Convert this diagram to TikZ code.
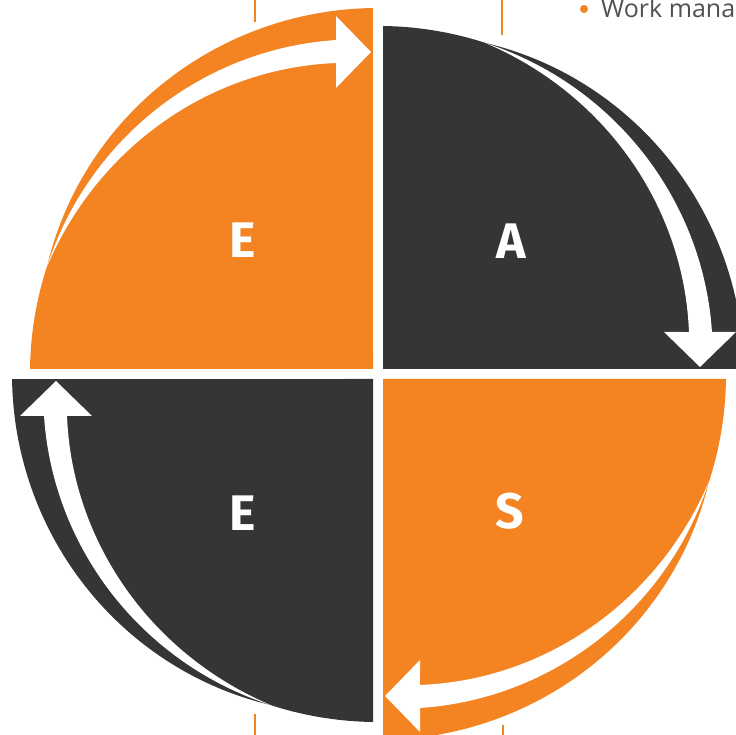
\documentclass[tikz,border=0pt]{standalone}
\usepackage{fontspec}
\setmainfont{Fira Sans}
\newfontfamily\topfont{Open Sans}
\definecolor{orng}{HTML}{F48421}
\definecolor{dark}{HTML}{373435}
\definecolor{txtgray}{HTML}{505050}
\tikzset{
  letter/.style={text=white,font=\fontsize{50}{50}\selectfont\bfseries,inner sep=0pt},
  tick/.style={orng,line width=2pt},
}
\newcommand{\quadshape}[2]{%
\begin{scope}[shift={(378,361)},rotate=#1]
  \fill[#2] (5,5) -- (5,348) arc[start angle=89.18,end angle=72,radius=348]
    -- plot[domain=72:0.8,samples=70,variable=\t]
       ({(348+18*((72-\t)/71.2)*(2-(72-\t)/71.2))*cos(\t)},{(348+18*((72-\t)/71.2)*(2-(72-\t)/71.2))*sin(\t)})
    -- cycle;
  \fill[white]
    plot[domain=72:7.69,samples=70,variable=\t]
       ({(348-34.2*(72-\t)/64.31)*cos(\t)},{(348-34.2*(72-\t)/64.31)*sin(\t)})
    -- (286,42) -- (322,7) -- (358,42) -- (334,42)
    -- plot[domain=7.17:72,samples=70,variable=\t]
       ({(348-11.4*((72-\t)/64.83)^2)*cos(\t)},{(348-11.4*((72-\t)/64.83)^2)*sin(\t)})
    -- cycle;
\end{scope}}
\begin{document}
\begin{tikzpicture}[x=1pt,y=1pt]
  \useasboundingbox (0,0) rectangle (736,735);
  \clip (0,0) rectangle (736,735);
  \quadshape{0}{dark}
  \quadshape{90}{orng}
  \quadshape{180}{dark}
  \quadshape{270}{orng}
  \node[letter] (lE1) at (243,495) {E};
  \node[letter] (lA) at (511,494) {A};
  \node[letter] (lE2) at (243,222) {E};
  \node[letter] (lS) at (510,224) {S};
  \draw[tick] (255,735) -- (255,713);
  \draw[tick] (502,735) -- (502,700);
  \draw[tick] (255,0) -- (255,21);
  \draw[tick] (503,0) -- (503,10);
  \fill[orng] (584,726) circle (4);
  \node[anchor=base west,inner sep=0pt,text=txtgray,font=\topfont\fontsize{25}{25}\selectfont] (work) at (601,717) {Work mana};
\end{tikzpicture}
\end{document}
